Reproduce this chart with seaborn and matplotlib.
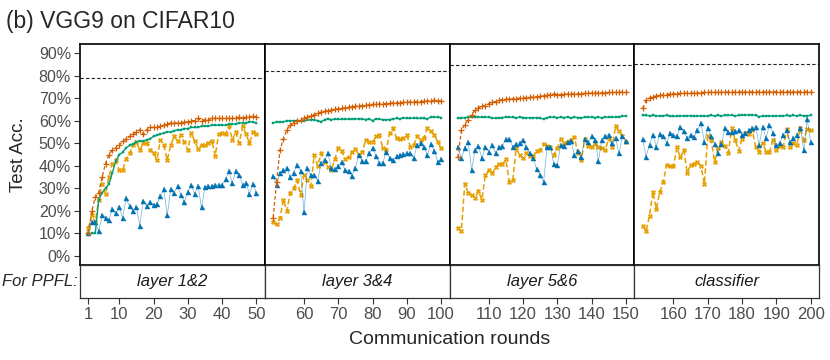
import numpy as np
import pandas as pd
import seaborn as sns
import matplotlib.pyplot as plt

# communication rounds, 50 per facet
rounds = list(range(1, 201))
facet_labels = ["layer 1&2", "layer 3&4", "layer 5&6", "classifier"]
facet_ticks = [[1, 10, 20, 30, 40, 50], [60, 70, 80, 90, 100],
               [110, 120, 130, 140, 150], [160, 170, 180, 190, 200]]
baseline_acc = [79.0, 82.1, 84.8, 85.3]

# test accuracy (%) per series
acc_plus = [
    10, 20, 26, 28, 35, 41, 45, 47, 48, 49, 51, 52, 53, 54, 55, 56, 54, 56, 57, 57,
    57, 57.5, 58, 58.5, 59, 59, 59, 59, 59.5, 59.5, 60, 60, 61, 60, 60.5, 60.5, 61, 61, 61, 61,
    61, 61, 61, 61, 61.5, 61, 61.5, 61.5, 62, 61.5,
    17, 33, 47, 52, 56, 58, 59, 59.7, 60.4, 61, 61.6, 62.2, 62.7, 63.4, 63.8, 64.2, 64.4, 64.6, 65, 65.3,
    65.5, 65.8, 66, 66.2, 66.4, 66.5, 66.7, 66.8, 67, 67.2, 67.2, 67.4, 67.5, 67.6, 67.8, 67.9, 68, 68, 68.1, 68.2,
    68.3, 68.4, 68.5, 68.5, 68.6, 68.7, 68.8, 69, 68.8, 68.7,
    43.7, 55.7, 58.2, 60.4, 62.7, 64.6, 65.7, 66.4, 66.7, 67.6, 68.2, 68.5, 69, 69.3, 69.5, 69.6, 69.7, 69.8, 70, 70.1,
    70.2, 70.4, 70.5, 70.6, 70.8, 71, 71.2, 71.5, 71.9, 71.5, 71.6, 71.7, 71.8, 71.8, 71.9, 72, 72, 72.1, 72.2, 72.2,
    72.3, 72.3, 72.4, 72.4, 72.5, 72.5, 72.5, 72.6, 72.6, 72.5,
    65.4, 69, 70.1, 70.6, 70.9, 71.2, 71.3, 71.6, 71.9, 72, 72, 72.1, 72.1, 72.2, 72.2, 72.3, 72.2, 72.4, 72.5, 72.5,
    72.6, 72.6, 72.5, 72.6, 72.7, 72.7, 72.6, 72.7, 72.7, 72.8, 72.7, 72.7, 72.8, 72.7, 72.8, 72.8, 72.7, 72.8, 72.8, 72.8,
    72.7, 72.8, 72.8, 72.8, 72.7, 72.8, 72.8, 72.8, 72.8, 72.8,
]
acc_square = [
    10, 10, 10, 25, 28, 30, 32, 37, 42, 45, 46, 48, 49, 49.5, 50.5, 51, 51, 51.5, 52, 53,
    53.5, 54, 54.5, 55, 55, 55.5, 56, 56, 56.5, 56.5, 57, 57, 57, 57.5, 57.5, 57.5, 58, 58, 58, 58,
    58, 58.5, 58.5, 58.5, 59, 59, 59, 59.5, 59.5, 59,
    59, 59.5, 59.5, 59.5, 60, 60, 60, 60, 60, 60, 60.2, 60.5, 60.4, 60, 59.5, 60.5, 60.8, 60.5, 60.6, 60.6,
    60.6, 60.8, 60.6, 60.6, 60.8, 60.8, 60.7, 60.5, 60.8, 60, 60.8, 60.6, 60.5, 60.4, 60.5, 60.8, 61, 60.8, 61.3, 61,
    61, 61.2, 61, 61, 61, 60.8, 61.6, 61.6, 61.5, 61.4,
    61, 61.2, 61.3, 61.5, 61.5, 61.8, 61.6, 61.5, 61.7, 61.5, 61.2, 61, 61.2, 61.4, 61.6, 61.5, 61.5, 61.3, 61.5, 61.4,
    61.2, 61.3, 61.2, 61.4, 61, 60.8, 61.3, 61.6, 61.5, 61.4, 61.5, 61.4, 61.6, 61.2, 61.5, 61.4, 61.3, 61.5, 61.5, 61.6,
    61.4, 61.5, 61.3, 61.6, 61.5, 61.5, 61.7, 61.6, 62, 62,
    62.3, 62.3, 62.2, 62.3, 62.2, 62.1, 62.2, 62.3, 62, 61.9, 62, 62.1, 62.2, 62.1, 62.2, 62, 62.1, 62.2, 61.9, 62.2,
    62.3, 62.2, 62.3, 62.2, 62.3, 62.3, 62.4, 62.2, 62.3, 62.4, 62.5, 62.5, 62.6, 62.3, 61.8, 62, 62, 62.2, 62, 62.1,
    62.2, 62.1, 62.3, 62.2, 62.3, 62.2, 62.3, 62.2, 62.2, 62.3,
]
acc_cross = [
    12.5, 18, 15, 25, 32, 27.5, 35, 41, 42.5, 38, 38, 43, 45.5, 49, 50.5, 47, 50, 50, 47, 45.5,
    42.5, 51.5, 49, 42.5, 49, 53, 51, 53.5, 50.5, 47, 54.5, 51, 47.5, 49, 49, 50, 51, 44.5, 54, 54.5,
    54, 57.5, 51.5, 55, 50, 57.5, 54, 50, 55, 54,
    15, 14, 17, 25, 20, 28, 30, 33.5, 27, 36, 33.6, 31, 45, 40, 45.5, 41.8, 39.5, 38, 43, 47.8,
    46.6, 43, 43.7, 46, 47.5, 44.8, 46, 51.5, 50.7, 50.4, 53, 53.7, 47.8, 47, 54.5, 56.7, 52.2, 52, 52.2, 53.7,
    48.5, 49, 53, 51.5, 52.2, 56.7, 55.2, 53.7, 50.7, 47.8,
    12.4, 10.9, 32, 28, 26.9, 25.8, 28.7, 25, 35.8, 38, 36.6, 39.5, 40.7, 40.7, 42.8, 32.8, 33.6, 47.8, 44.8, 43.3,
    45.5, 44.5, 44.5, 46.7, 47, 49.7, 48.8, 48.2, 44.8, 47.8, 51.8, 50, 50.7, 51.5, 52.7, 45.5, 42.5, 51.8, 48.8, 48.5,
    50, 48.2, 47.8, 47, 52.2, 48.2, 57.5, 55.2, 53.3, 50.7,
    13.4, 10.9, 17.9, 28.4, 20.9, 28.4, 32.8, 40.3, 39.9, 39.9, 48.2, 43.7, 47, 36.9, 40.3, 41, 41.8, 39.9, 32, 53,
    51.5, 41.8, 47.8, 50.7, 48.8, 45.8, 56.7, 51.5, 46.7, 51.8, 54.5, 54.2, 55.7, 48.2, 46.3, 50.3, 46.3, 46.3, 51.5, 47,
    48.8, 48.2, 56.3, 48.2, 50, 49.3, 56.7, 51.5, 56.3, 55.7,
]
acc_triangle = [
    10, 15, 15, 11, 18, 17, 16, 21, 19, 21.5, 17, 25.5, 22, 20, 21.5, 13.5, 24.5, 22, 24, 22.5,
    23, 26.5, 29.5, 18, 29.5, 28, 31, 27, 24, 28.5, 31.5, 27.5, 31, 21.5, 30.5, 31, 31, 31.5, 31.5, 31.5,
    34, 37.5, 32.5, 37.5, 36, 31.5, 32.5, 27.5, 32, 28,
    35.4, 31.6, 37, 38, 38.8, 35, 37, 40.3, 37.8, 19.4, 38.8, 35.8, 35.8, 33.3, 41.3, 42.5, 45.5, 38.8, 38.4, 39.9,
    41.8, 38, 37.8, 35.4, 39.2, 44.8, 42, 42.2, 45.5, 47.8, 44.3, 41.3, 41.3, 46.3, 43.3, 42.5, 44.3, 44.8, 45.2, 45.5,
    45.5, 43.3, 49.3, 50.3, 48.2, 44.8, 49.7, 46.7, 41.8, 42.8,
    48.5, 43.3, 47.8, 50.7, 38, 47, 48.8, 43.3, 48.2, 46.3, 49.3, 45.5, 48.2, 48.8, 51.8, 51.8, 48.5, 49.7, 50.3, 51.5,
    48.2, 45.5, 43.3, 38.4, 36, 32.8, 48.2, 48.5, 40.7, 40.3, 49.3, 48.8, 50.7, 51.2, 44.8, 46.7, 43.7, 51.8, 50.7, 53,
    51.5, 42.2, 51.5, 53.3, 53.7, 50, 52.2, 45.5, 53, 51.2,
    51.8, 44, 49.3, 53.7, 48.5, 54.2, 53, 50, 54.5, 53.5, 53, 57.2, 55.2, 52.2, 53.7, 52.7, 55.7, 59, 50.7, 56.7,
    53, 49.7, 45.8, 49.7, 56.7, 54.8, 55, 55.2, 55.7, 53.7, 54.5, 55.7, 56.7, 57, 49.3, 57.2, 52.2, 58.2, 54.5, 49.3,
    50, 53.7, 55.7, 50.7, 52.2, 53.7, 56.7, 47, 60.7, 50.7,
]

series = [
    # name, values, color, marker, markersize, line style, line width, line alpha
    ("cross", acc_cross, "#E69F00", "X", 3.2, (3.5, 1.8), 1.1, 1.0),
    ("triangle", acc_triangle, "#0072B2", "^", 3.6, None, 0.5, 0.55),
    ("square", acc_square, "#009E73", "s", 2.0, None, 1.0, 1.0),
    ("plus", acc_plus, "#D55E00", "+", 3.8, (3.0, 1.8), 0.9, 1.0),
]

df = pd.DataFrame({"round": rounds})
for name, vals, *_ in series:
    df[name] = vals
df["facet"] = (df["round"] - 1) // 50

sns.set_theme(style="white")
plt.rcParams["font.family"] = ["Liberation Sans", "DejaVu Sans"]

fig = plt.figure(figsize=(8.3, 3.6), dpi=100)
W, H = 830, 360
left_px, right_px = 80, 819
top_px, bottom_px, strip_px = 44, 265, 298
pw = (right_px - left_px) / 4
gray = "#4D4D4D"

for i in range(4):
    x0 = left_px + i * pw
    ax = fig.add_axes([x0 / W, 1 - bottom_px / H, pw / W, (bottom_px - top_px) / H])
    sax = fig.add_axes([x0 / W, 1 - strip_px / H, pw / W, (strip_px - bottom_px) / H])
    sub = df[df["facet"] == i]
    lo, hi = sub["round"].min(), sub["round"].max()
    pad = 0.05 * (hi - lo)

    for name, vals, color, marker, ms, dash, lw, alpha in series:
        kws = dict(color=color, linewidth=lw, alpha=alpha)
        if dash is not None:
            kws["dashes"] = dash
        sns.lineplot(data=sub, x="round", y=name, ax=ax, **kws)
        sns.lineplot(data=sub, x="round", y=name, ax=ax, color=color,
                     linewidth=0, marker=marker, markersize=ms,
                     markeredgecolor=color, markerfacecolor=color,
                     markeredgewidth=0.9 if marker == "+" else 0.3)
    ax.axhline(baseline_acc[i], color="#222222", linestyle=(0, (3, 2)), linewidth=0.8)

    ax.set_xlim(lo - pad, hi + pad)
    ax.set_ylim(-4, 94)
    ax.set_xticks([])
    ax.set_xlabel("")
    ax.set_ylabel("")
    for sp in ax.spines.values():
        sp.set_color("black")
        sp.set_linewidth(1.2)
    if i == 0:
        ax.set_yticks(range(0, 91, 10))
        ax.set_yticklabels([f"{v}%" for v in range(0, 91, 10)])
        ax.tick_params(axis="y", left=True, length=4, width=0.8, color="#333333",
                       pad=2.5, labelsize=11.5, labelcolor=gray)
    else:
        ax.set_yticks([])

    sax.set_xlim(lo - pad, hi + pad)
    sax.set_ylim(0, 1)
    sax.set_yticks([])
    sax.set_xticks(facet_ticks[i])
    sax.tick_params(axis="x", bottom=True, length=4, width=0.8, color="#333333",
                    pad=2.5, labelsize=12, labelcolor=gray)
    for lab in sax.get_xticklabels():
        lab.set_fontfamily(["Liberation Sans Narrow", "Liberation Sans"])
    for sp in sax.spines.values():
        sp.set_color("#333333")
        sp.set_linewidth(0.9)
    sax.text(0.5, 0.5, facet_labels[i], transform=sax.transAxes, ha="center",
             va="center", fontsize=12, style="italic", color="#1A1A1A")

fig.text(6 / W, 1 - 28 / H, "(b) VGG9 on CIFAR10", fontsize=16.5, ha="left", va="baseline")
fig.text(18.5 / W, 1 - 155 / H, "Test Acc.", fontsize=13.5, rotation=90, ha="center", va="center")
fig.text(78 / W, 1 - 281.5 / H, "For PPFL:", fontsize=12, style="italic", ha="right", va="center")
fig.text((left_px + right_px) / 2 / W, 1 - 344 / H, "Communication rounds",
         fontsize=14, ha="center", va="baseline")

fig.savefig("out.png", dpi=100)
